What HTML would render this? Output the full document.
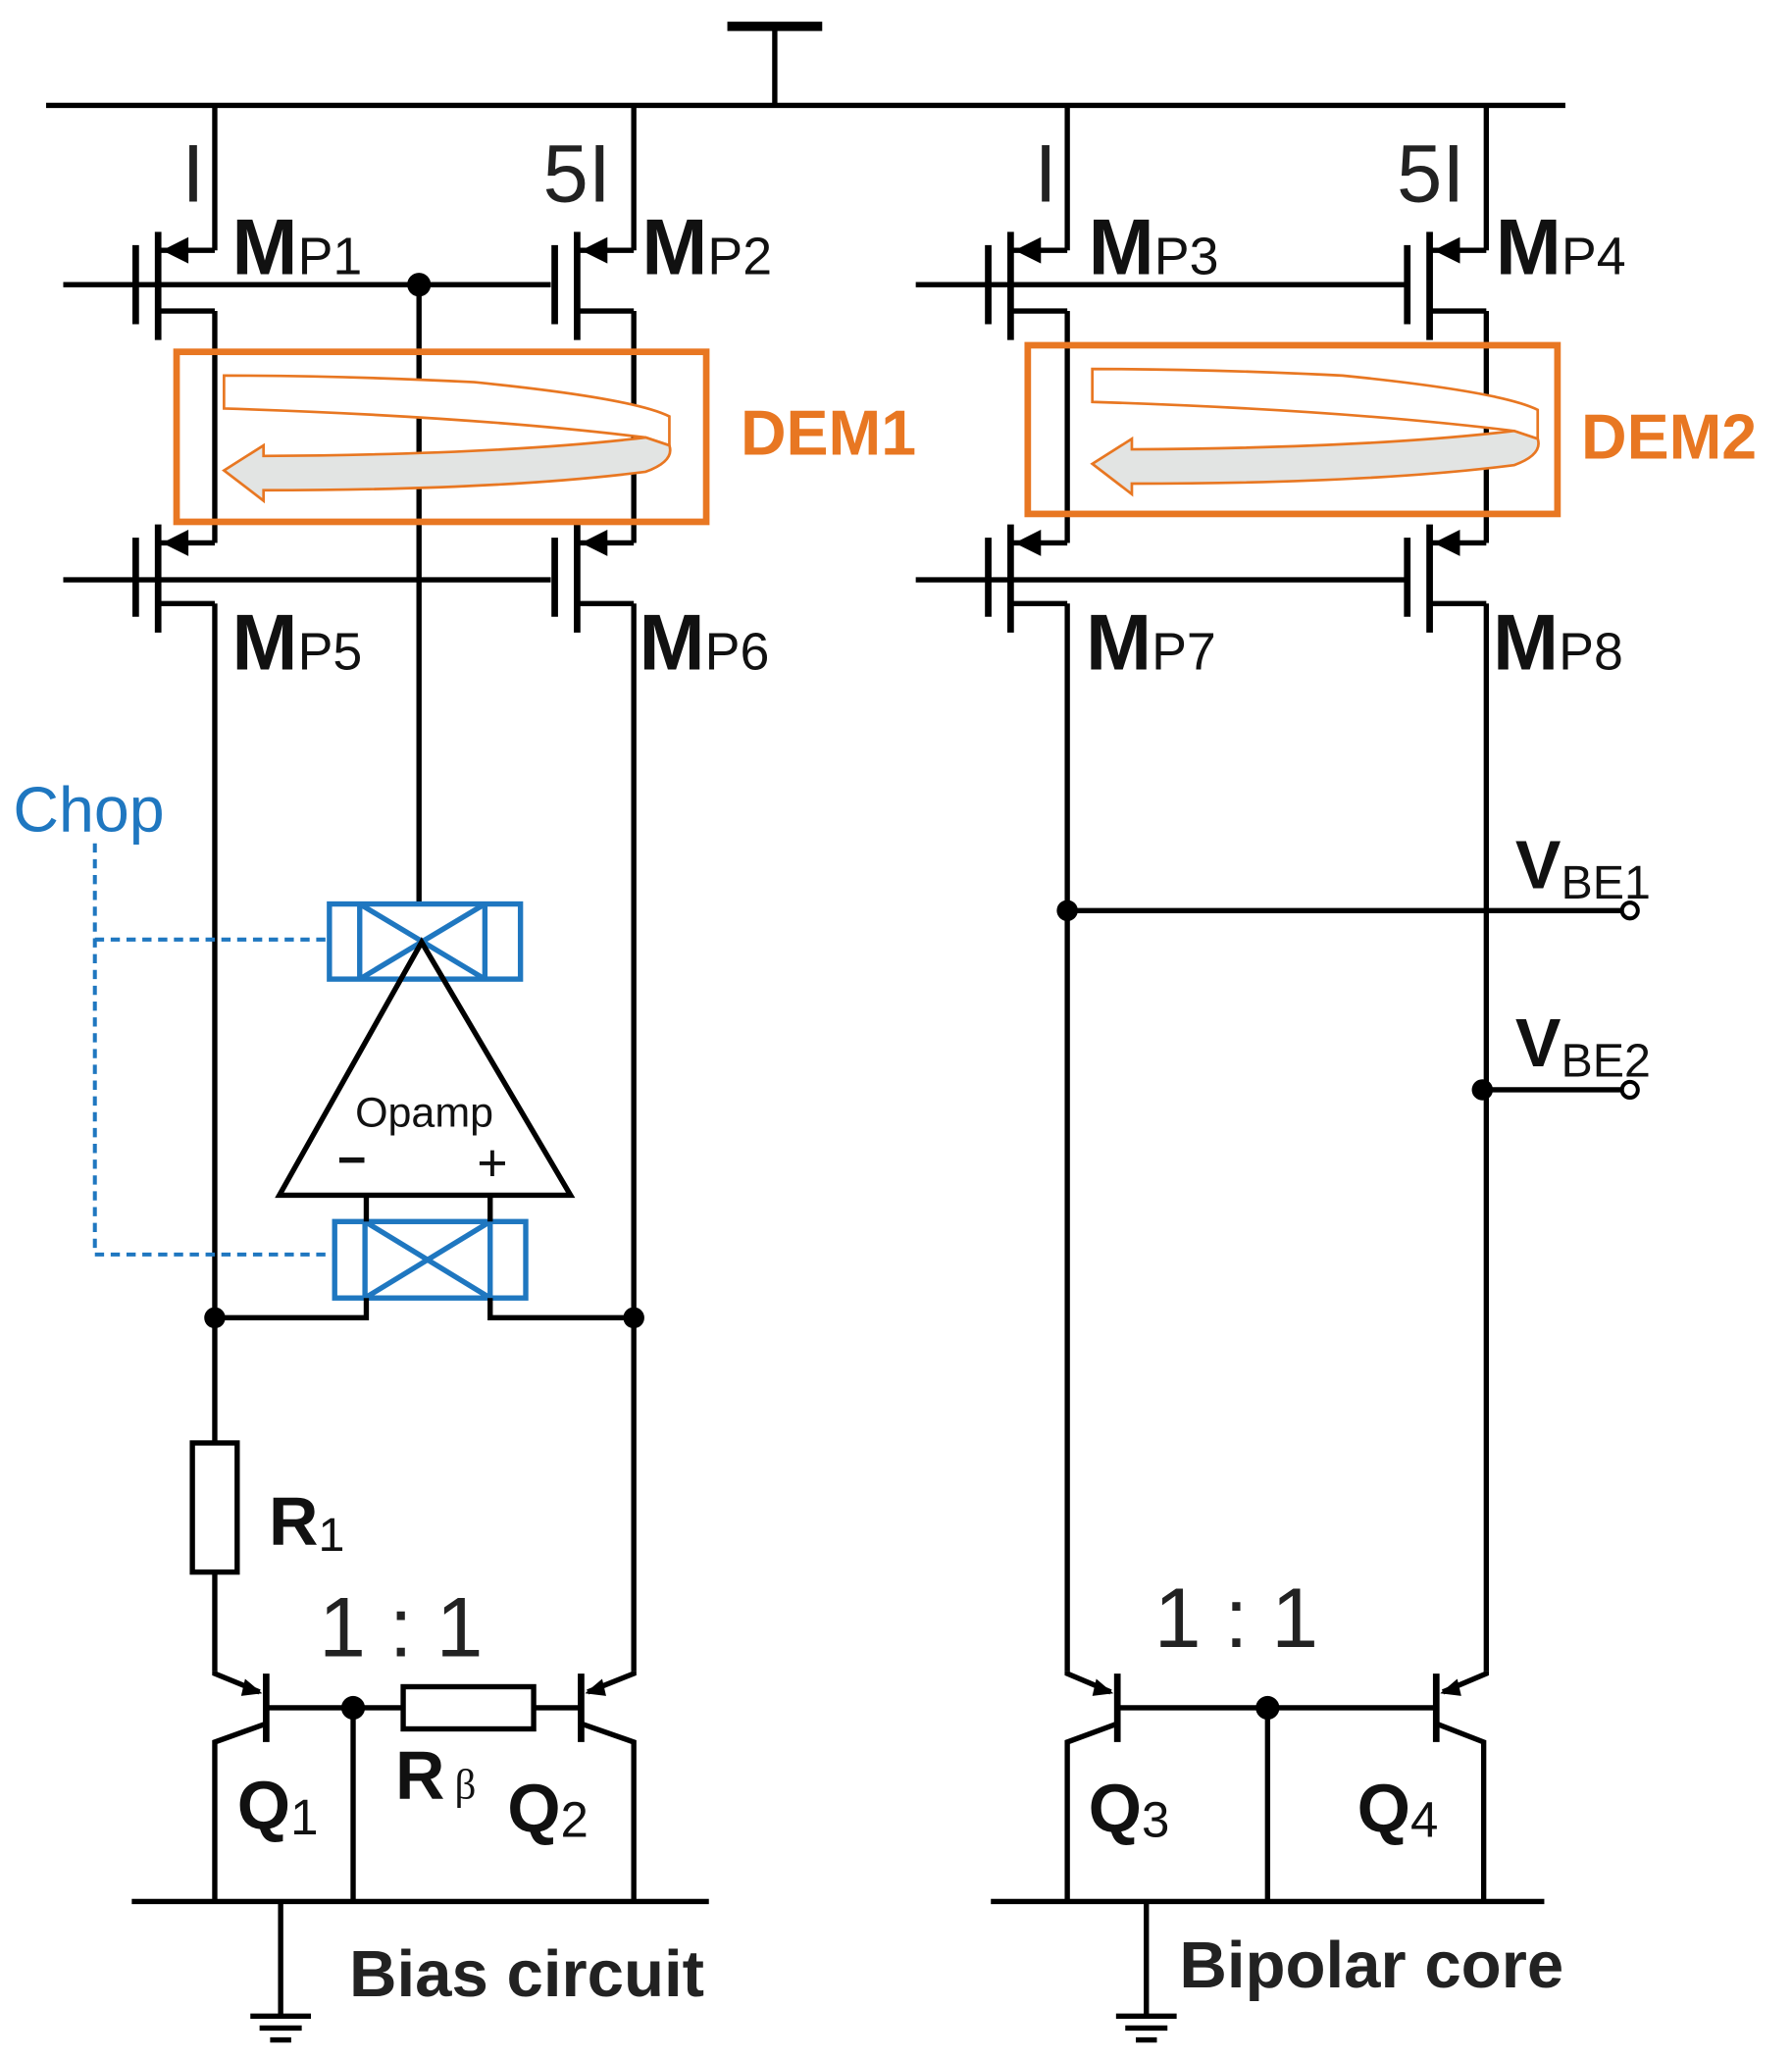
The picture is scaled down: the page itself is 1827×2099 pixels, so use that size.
<!DOCTYPE html>
<html><head><meta charset="utf-8"><style>html,body{margin:0;padding:0;background:#fff}svg{display:block}</style></head>
<body>
<svg width="1827" height="2099" viewBox="0 0 1360 1562.5" preserveAspectRatio="none" xmlns="http://www.w3.org/2000/svg" font-family="Liberation Sans, sans-serif">
<defs>
<g id="pm">
 <line x1="-43" y1="-40" x2="-43" y2="42" stroke="#000" stroke-width="5"/>
 <line x1="-60" y1="-30" x2="-60" y2="30" stroke="#000" stroke-width="5"/>
 <polyline points="0,-26 -43,-26" fill="none" stroke="#000" stroke-width="4"/>
 <polygon points="-40,-26 -20,-36 -20,-16" fill="#000"/>
 <polyline points="-43,20 0,20" fill="none" stroke="#000" stroke-width="4"/>
</g>
<g id="gnd" stroke="#000" stroke-width="4">
 <line x1="-23" y1="0" x2="23" y2="0"/><line x1="-16" y1="9" x2="16" y2="9"/><line x1="-8" y1="18" x2="8" y2="18"/>
</g>
</defs>
<g stroke="#000" stroke-width="4" fill="none">
 <line x1="552" y1="20" x2="624" y2="20" stroke-width="7"/>
 <line x1="588" y1="20" x2="588" y2="80"/>
 <line x1="35" y1="80" x2="1188" y2="80"/>
 <line x1="163" y1="80" x2="163" y2="190"/>
 <line x1="481" y1="80" x2="481" y2="190"/>
 <line x1="810" y1="80" x2="810" y2="190"/>
 <line x1="1128" y1="80" x2="1128" y2="190"/>
 <line x1="163" y1="236" x2="163" y2="412"/>
 <line x1="481" y1="236" x2="481" y2="412"/>
 <line x1="810" y1="236" x2="810" y2="412"/>
 <line x1="1128" y1="236" x2="1128" y2="412"/>
 <line x1="48" y1="216" x2="418" y2="216"/>
 <line x1="48" y1="440" x2="418" y2="440"/>
 <line x1="695" y1="216" x2="1066" y2="216"/>
 <line x1="695" y1="440" x2="1066" y2="440"/>
 <line x1="318" y1="216" x2="318" y2="686"/>
 <line x1="163" y1="458" x2="163" y2="1095"/>
 <line x1="481" y1="458" x2="481" y2="1268"/>
 <line x1="163" y1="1193" x2="163" y2="1268"/>
 <line x1="810" y1="458" x2="810" y2="1268"/>
 <line x1="1128" y1="458" x2="1128" y2="1268"/>
</g>
<use href="#pm" x="163" y="216"/>
<use href="#pm" x="481" y="216"/>
<use href="#pm" x="810" y="216"/>
<use href="#pm" x="1128" y="216"/>
<use href="#pm" x="163" y="438"/>
<use href="#pm" x="481" y="438"/>
<use href="#pm" x="810" y="438"/>
<use href="#pm" x="1128" y="438"/>
<circle cx="318" cy="216" r="9" fill="#000"/>
<g fill="#222" font-size="62">
 <text x="138" y="153" font-weight="300">I</text>
 <text x="412" y="153">5I</text>
 <text x="785" y="153">I</text>
 <text x="1060" y="153">5I</text>
</g>
<g fill="#111" font-size="60" font-weight="bold">
 <text x="176" y="208">M<tspan font-size="40" font-weight="normal">P1</tspan></text>
 <text x="487" y="208">M<tspan font-size="40" font-weight="normal">P2</tspan></text>
 <text x="826" y="208">M<tspan font-size="40" font-weight="normal">P3</tspan></text>
 <text x="1135" y="208">M<tspan font-size="40" font-weight="normal">P4</tspan></text>
 <text x="176" y="508">M<tspan font-size="40" font-weight="normal">P5</tspan></text>
 <text x="485" y="508">M<tspan font-size="40" font-weight="normal">P6</tspan></text>
 <text x="824" y="508">M<tspan font-size="40" font-weight="normal">P7</tspan></text>
 <text x="1133" y="508">M<tspan font-size="40" font-weight="normal">P8</tspan></text>
</g>
<g stroke="#E87722" fill="none">
 <rect x="134" y="267" width="402" height="129" stroke-width="5"/>
 <rect x="780" y="262" width="402" height="128" stroke-width="5"/>
</g>
<g id="rib" stroke="#E87722" stroke-width="2">
 <path d="M170,285 L170,310 Q360,316 490,332 L508,338 L508,316 Q480,302 360,290 Q260,285 170,285 Z" fill="#fff"/>
 <path d="M490,332 Q380,345 200,346 L200,338 L170,357 L200,380 L200,372 Q380,372 490,358 Q512,350 508,338 Z" fill="#e2e4e3"/>
</g>
<use href="#rib" x="659" y="-5"/>
<g fill="#E87722" font-size="48" font-weight="bold">
 <text x="562" y="345">DEM1</text>
 <text x="1200" y="348">DEM2</text>
</g>
<text x="10" y="631" fill="#1F77C0" font-size="48">Chop</text>
<g stroke="#1F77C0" stroke-width="3" stroke-dasharray="7,5" fill="none">
 <polyline points="72,640 72,952 253,952"/>
 <line x1="72" y1="713" x2="250" y2="713"/>
</g>
<g stroke="#1F77C0" stroke-width="4" fill="none">
 <rect x="250" y="686" width="145" height="57"/>
 <line x1="273" y1="686" x2="273" y2="743"/><line x1="368" y1="686" x2="368" y2="743"/>
 <line x1="273" y1="686" x2="368" y2="743"/><line x1="273" y1="743" x2="368" y2="686"/>
 <rect x="254" y="927" width="145" height="58"/>
 <line x1="277" y1="927" x2="277" y2="985"/><line x1="372" y1="927" x2="372" y2="985"/>
 <line x1="277" y1="927" x2="372" y2="985"/><line x1="277" y1="985" x2="372" y2="927"/>
</g>
<g stroke="#000" stroke-width="4" fill="none">
 <polygon points="320,715 212,907 433,907"/>
 <line x1="278" y1="907" x2="278" y2="927"/><line x1="372" y1="907" x2="372" y2="927"/>
 <polyline points="278,985 278,1000 163,1000"/>
 <polyline points="372,985 372,1000 481,1000"/>
 <rect x="146" y="1095" width="34" height="98"/>
 <rect x="306" y="1280" width="99" height="32"/>
 <line x1="202" y1="1270" x2="202" y2="1322" stroke-width="5"/>
 <polyline points="163,1268 163,1270 197,1284"/>
 <polyline points="202,1308 163,1322 163,1443"/>
 <line x1="202" y1="1296" x2="306" y2="1296"/>
 <line x1="405" y1="1296" x2="441" y2="1296"/>
 <line x1="268" y1="1296" x2="268" y2="1443"/>
 <line x1="441" y1="1270" x2="441" y2="1322" stroke-width="5"/>
 <polyline points="481,1268 481,1270 446,1284"/>
 <polyline points="441,1308 481,1322 481,1443"/>
 <line x1="100" y1="1443" x2="538" y2="1443"/>
 <line x1="213" y1="1443" x2="213" y2="1530"/>
 <line x1="810" y1="691" x2="1231" y2="691"/>
 <line x1="1125" y1="827" x2="1231" y2="827"/>
 <line x1="848" y1="1270" x2="848" y2="1322" stroke-width="5"/>
 <polyline points="810,1268 810,1270 843,1284"/>
 <polyline points="848,1308 810,1322 810,1443"/>
 <line x1="848" y1="1296" x2="1090" y2="1296"/>
 <line x1="962" y1="1296" x2="962" y2="1443"/>
 <line x1="1090" y1="1270" x2="1090" y2="1322" stroke-width="5"/>
 <polyline points="1128,1268 1128,1270 1095,1284"/>
 <polyline points="1090,1308 1126,1322 1126,1443"/>
 <line x1="752" y1="1443" x2="1172" y2="1443"/>
 <line x1="870" y1="1443" x2="870" y2="1530"/>
</g>
<g fill="#000">
 <polygon points="199,1285 186,1274 183,1287"/>
 <polygon points="444,1285 457,1274 460,1287"/>
 <polygon points="845,1285 832,1274 829,1287"/>
 <polygon points="1093,1285 1106,1274 1109,1287"/>
 <circle cx="163" cy="1000" r="8"/><circle cx="481" cy="1000" r="8"/>
 <circle cx="268" cy="1296" r="9"/><circle cx="962" cy="1296" r="9"/>
 <circle cx="810" cy="691" r="8"/><circle cx="1125" cy="827" r="8"/>
</g>
<circle cx="1237" cy="691" r="6" fill="#fff" stroke="#000" stroke-width="3"/>
<circle cx="1237" cy="827" r="6" fill="#fff" stroke="#000" stroke-width="3"/>
<use href="#gnd" x="213" y="1530"/>
<use href="#gnd" x="870" y="1530"/>
<text x="322" y="855" font-size="32" text-anchor="middle" fill="#111">Opamp</text>
<text x="256" y="893" font-size="38" fill="#111" font-weight="bold">−</text>
<text x="362" y="896" font-size="40" fill="#111">+</text>
<g fill="#222">
 <text x="242" y="1257" font-size="64" font-weight="300">1 : 1</text>
 <text x="876" y="1250" font-size="64" font-weight="300">1 : 1</text>
</g>
<g fill="#111" font-size="52" font-weight="bold">
 <text x="204" y="1172">R<tspan font-size="36" font-weight="normal" dy="5">1</tspan></text>
 <text x="180" y="1388">Q<tspan font-size="38" font-weight="normal" dy="4">1</tspan></text>
 <text x="300" y="1365">R</text>
 <text x="385" y="1390">Q<tspan font-size="38" font-weight="normal" dy="4">2</tspan></text>
 <text x="826" y="1390">Q<tspan font-size="38" font-weight="normal" dy="4">3</tspan></text>
 <text x="1030" y="1390">Q<tspan font-size="38" font-weight="normal" dy="4">4</tspan></text>
 <text x="1150" y="674">V<tspan font-size="36" font-weight="normal" dy="8">BE1</tspan></text>
 <text x="1150" y="809">V<tspan font-size="36" font-weight="normal" dy="8">BE2</tspan></text>
</g>
<text x="345" y="1365" font-size="32" font-family="Liberation Serif, serif" fill="#111">β</text>
<g fill="#222" font-size="50" font-weight="bold">
 <text x="265" y="1515">Bias circuit</text>
 <text x="895" y="1508">Bipolar core</text>
</g>
</svg>
</body></html>
